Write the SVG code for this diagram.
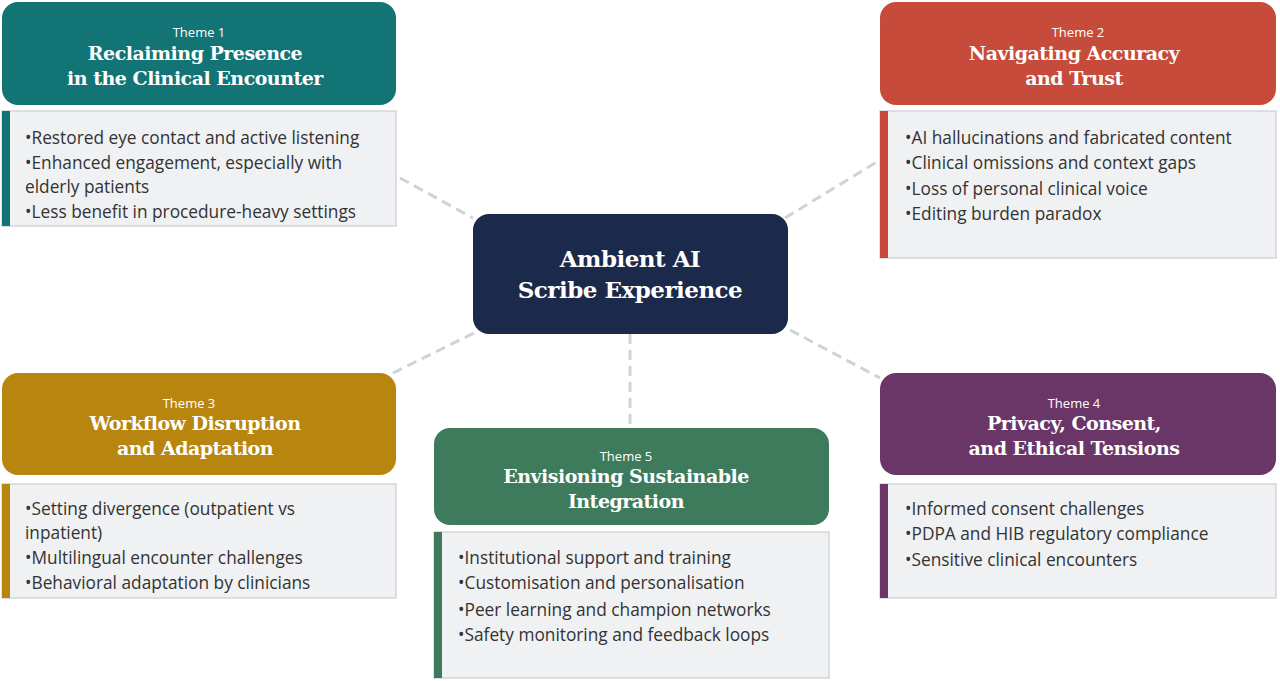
<svg xmlns="http://www.w3.org/2000/svg" width="1280" height="681" viewBox="0 0 1280 681">
<style>
.hd{stroke:none}
.bd{fill:#eff1f3;stroke:#d3d6da;stroke-width:1.5}
.th{font-family:"Open Sans","Noto Sans",sans-serif;font-size:13px;fill:#fff;text-anchor:middle}
.tt{font-family:"DejaVu Serif","Liberation Serif",serif;font-weight:bold;font-size:19px;fill:#fff;text-anchor:middle;letter-spacing:-0.5px}
.tx{font-family:"Open Sans","Noto Sans",sans-serif;font-size:17.3px;fill:#333}
.cn{stroke:#d0d3d6;stroke-width:3;stroke-dasharray:10,6;fill:none}
</style>
<rect width="1280" height="681" fill="#fff"/>
<g id="connectors">
<line class="cn" x1="400" y1="178" x2="473" y2="218"/>
<line class="cn" x1="785" y1="218" x2="880" y2="160"/>
<line class="cn" x1="393" y1="373" x2="480" y2="330"/>
<line class="cn" x1="790" y1="330" x2="880" y2="378"/>
<line class="cn" x1="630" y1="334" x2="630" y2="428"/>
</g>
<g id="center">
<rect x="473" y="214" width="315" height="120" rx="16" fill="#1b2a4b"/>
<text class="tt" x="630" y="267" style="font-size:23px">Ambient AI</text>
<text class="tt" x="630" y="298" style="font-size:23px">Scribe Experience</text>
</g>
<g id="theme1">
<rect x="2" y="2" width="394" height="103" rx="16" fill="#127474"/>
<text class="th" x="199" y="37">Theme 1</text>
<text class="tt" x="195" y="60">Reclaiming Presence</text>
<text class="tt" x="195" y="85">in the Clinical Encounter</text>
<rect class="bd" x="2" y="111" width="394" height="115"/>
<rect x="2" y="111" width="8" height="115" fill="#127474"/>
<text class="tx" x="25" y="144">•Restored eye contact and active listening</text>
<text class="tx" x="25" y="169">•Enhanced engagement, especially with</text>
<text class="tx" x="25" y="193">elderly patients</text>
<text class="tx" x="25" y="218">•Less benefit in procedure-heavy settings</text>
</g>
<g id="theme2">
<rect x="880" y="2" width="396" height="103" rx="16" fill="#c74b3a"/>
<text class="th" x="1078" y="37">Theme 2</text>
<text class="tt" x="1074" y="60">Navigating Accuracy</text>
<text class="tt" x="1074" y="85">and Trust</text>
<rect class="bd" x="880" y="111" width="396" height="147"/>
<rect x="880" y="111" width="8" height="147" fill="#c74b3a"/>
<text class="tx" x="905" y="144">•AI hallucinations and fabricated content</text>
<text class="tx" x="905" y="169">•Clinical omissions and context gaps</text>
<text class="tx" x="905" y="195">•Loss of personal clinical voice</text>
<text class="tx" x="905" y="220">•Editing burden paradox</text>
</g>
<g id="theme3">
<rect x="2" y="373" width="394" height="102" rx="16" fill="#b8860e"/>
<text class="th" x="189" y="408">Theme 3</text>
<text class="tt" x="195" y="430">Workflow Disruption</text>
<text class="tt" x="195" y="455">and Adaptation</text>
<rect class="bd" x="2" y="484" width="394" height="114"/>
<rect x="2" y="484" width="8" height="114" fill="#b8860e"/>
<text class="tx" x="25" y="515">•Setting divergence (outpatient vs</text>
<text class="tx" x="25" y="539">inpatient)</text>
<text class="tx" x="25" y="564">•Multilingual encounter challenges</text>
<text class="tx" x="25" y="589">•Behavioral adaptation by clinicians</text>
</g>
<g id="theme4">
<rect x="880" y="373" width="396" height="102" rx="16" fill="#6a3667"/>
<text class="th" x="1074" y="408">Theme 4</text>
<text class="tt" x="1074" y="430">Privacy, Consent,</text>
<text class="tt" x="1074" y="455">and Ethical Tensions</text>
<rect class="bd" x="880" y="484" width="396" height="114"/>
<rect x="880" y="484" width="8" height="114" fill="#6a3667"/>
<text class="tx" x="905" y="515">•Informed consent challenges</text>
<text class="tx" x="905" y="540">•PDPA and HIB regulatory compliance</text>
<text class="tx" x="905" y="566">•Sensitive clinical encounters</text>
</g>
<g id="theme5">
<rect x="434" y="428" width="395" height="97" rx="16" fill="#3e7b5d"/>
<text class="th" x="626" y="461">Theme 5</text>
<text class="tt" x="626" y="483">Envisioning Sustainable</text>
<text class="tt" x="626" y="508">Integration</text>
<rect class="bd" x="434" y="532" width="395" height="146"/>
<rect x="434" y="532" width="8" height="146" fill="#3e7b5d"/>
<text class="tx" x="458" y="564">•Institutional support and training</text>
<text class="tx" x="458" y="589">•Customisation and personalisation</text>
<text class="tx" x="458" y="616">•Peer learning and champion networks</text>
<text class="tx" x="458" y="641">•Safety monitoring and feedback loops</text>
</g>
</svg>
